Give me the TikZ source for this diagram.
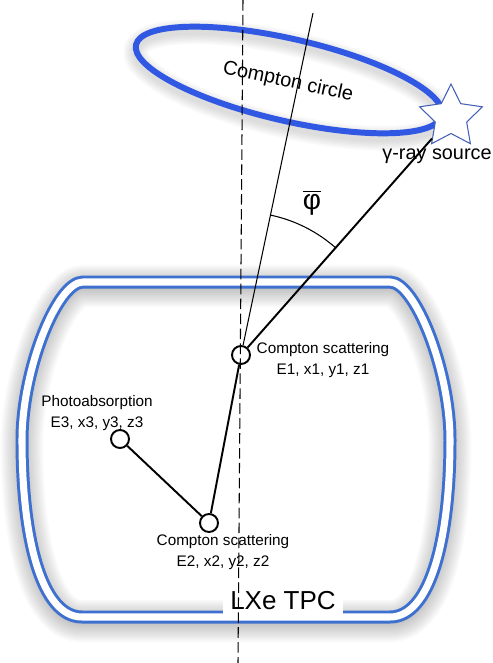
\documentclass[tikz,border=0pt]{standalone}
\usepackage{fontspec}
\setmainfont{Liberation Sans}
\usepackage{xcolor}
\usetikzlibrary{shapes.geometric, positioning}

\definecolor{tpcblue}{RGB}{62,112,208}
\definecolor{ringblue}{RGB}{48,88,226}
\definecolor{starblue}{RGB}{70,96,184}

\newcommand{\tpcoutline}{(83,-282) -- (390,-282) .. controls (415,-282) and (450,-370) .. (450,-440) .. controls (450,-540) and (430,-617) .. (390,-617) -- (82,-617) .. controls (42,-617) and (22,-540) .. (22,-440) .. controls (22,-370) and (57,-282) .. (83,-282) -- cycle}

\begin{document}
\begin{tikzpicture}[x=0.02cm, y=0.02cm]
\tikzstyle{hit} = [circle, draw, line width=1.1pt, fill=white, minimum size=0.36cm, inner sep=0pt]
\tikzstyle{evlabel} = [align=center, inner sep=0pt, font=\fontsize{8.7}{11.6}\selectfont]
\tikzstyle{biglabel} = [inner sep=0pt, font=\fontsize{11.3}{13}\selectfont]
\tikzstyle{track} = [draw, line width=1.1pt]
\tikzstyle{shade} = [black, opacity=0.022]

\useasboundingbox (0,0) rectangle (493,-663);

% detector
\foreach \w in {2,4,...,24} \draw[shade, line width=\w pt, yshift=-0.08cm] \tpcoutline;
\draw[draw=tpcblue, line width=1.7pt, double=white, double distance=4pt] \tpcoutline;
\node[fill=white, minimum width=2.4cm, minimum height=0.64cm, inner sep=0pt, font=\fontsize{14.8}{16}\selectfont] (tpc) at (283,-601) {LXe TPC};

% Compton cone
\foreach \w in {4,6,...,14} \draw[shade, line width=\w pt, yshift=-0.1cm, rotate around={-13:(289,-80)}] (289,-80) ellipse [x radius=157, y radius=41];
\draw[ringblue, line width=3.4pt, rotate around={-13:(289,-80)}] (289,-80) ellipse [x radius=157, y radius=41];
\node[biglabel, rotate=-12] (ring) at (288,-82) {Compton circle};

% events
\node[hit] (p1) at (241,-355) {};
\node[hit] (p2) at (209,-523) {};
\node[hit] (p3) at (120,-439) {};
\node[star, star points=5, star point ratio=2.0, minimum size=1.32cm, inner sep=0pt, draw=starblue, fill=white, line width=0.6pt] (src) at (451,-117) {};
\coordinate (axis) at (313,-13);

\draw[track] (p1) -- (p2);
\draw[track] (p2) -- (p3);
\draw[track] (p1) -- (src);
\draw[line width=0.6pt] (p1) -- (axis);
\draw[line width=0.6pt] (p1.center) ++(48.3:143) arc[start angle=48.3, end angle=78.1, radius=143];
\node[font=\fontsize{16}{18}\selectfont] (phi) at (312,-203) {$\overline{\mbox{φ}}$};

\node[biglabel] (srclabel) at (437,-156) {γ-ray source};
\node[evlabel] (lab1) at (323,-360) {Compton scattering\\E1, x1, y1, z1};
\node[evlabel] (lab2) at (223,-552) {Compton scattering\\E2, x2, y2, z2};
\node[evlabel] (lab3) at (97,-413) {Photoabsorption\\E3, x3, y3, z3};

% beam axis
\coordinate (top) at (243,0);
\coordinate (bot) at (238,-663);
\draw[line width=0.6pt, dash pattern=on 6pt off 2.5pt] (top) -- (bot);
\end{tikzpicture}
\end{document}
